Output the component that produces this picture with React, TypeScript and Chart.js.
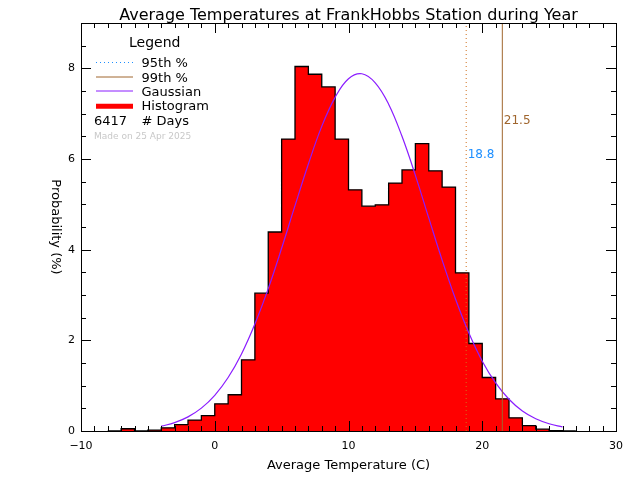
import { useEffect, useRef } from "react";
import { Chart, registerables } from "chart.js";

Chart.register(...registerables);

const titleText = "Average Temperatures at FrankHobbs Station during Year";
const xAxisTitle = "Average Temperature (C)";
const yAxisTitle = "Probability (%)";

const binStarts = [
  -8, -7, -6, -5, -4, -3, -2, -1, 0, 1, 2, 3, 4, 5, 6, 7, 8, 9, 10, 11, 12, 13,
  14, 15, 16, 17, 18, 19, 20, 21, 22, 23, 24, 25, 26,
];
const binWidth = 1;
const histogramPct = [
  0, 0.05, 0, 0.02, 0.07, 0.14, 0.24, 0.34, 0.6, 0.8, 1.57, 3.04, 4.39, 6.44,
  8.04, 7.87, 7.59, 6.44, 5.32, 4.96, 4.99, 5.47, 5.76, 6.34, 5.74, 5.38, 3.49,
  1.93, 1.18, 0.71, 0.29, 0.12, 0.04, 0.01, 0,
];

const gaussX = [
  -4, -3, -2, -1, 0, 1, 2, 3, 4, 5, 6, 7, 8, 9, 10, 11, 12, 13, 14, 15, 16, 17,
  18, 19, 20, 21, 22, 23, 24, 25, 26,
];
const gaussPct = [
  0.106, 0.185, 0.312, 0.505, 0.787, 1.18, 1.7, 2.36, 3.14, 4.03, 4.97, 5.89,
  6.72, 7.36, 7.77, 7.88, 7.68, 7.21, 6.5, 5.64, 4.7, 3.77, 2.91, 2.16, 1.54,
  1.06, 0.7, 0.44, 0.27, 0.16, 0.09,
];

const percentileValues = [18.8, 21.5];
const percentileLabels = ["18.8", "21.5"];
const percentileLabelY = [6.02, 6.78];

const xTicks = [-10, 0, 10, 20, 30];
const xTickLabels = ["\u221210", "0", "10", "20", "30"];
const yTicks = [0, 2, 4, 6, 8];
const yTickLabels = ["0", "2", "4", "6", "8"];
const xMin = -10;
const xMax = 30;
const yMin = 0;
const yMax = 9;
const xMinorStep = 1;
const yMinorStep = 0.5;

const dayCount = 6417;
const madeOn = "Made on 25 Apr 2025";
const legendLabels = ["95th %", "99th %", "Gaussian", "Histogram"];

const C_RED = "#ff0000";
const C_GAUSS = "#8a1cff";
const C_P95 = "#d0701e";
const C_P95_LEGEND = "#1e8fff";
const C_P99 = "#a0662e";
const FONT = '"DejaVu Sans", sans-serif';

const overlay = {
  id: "overlay",
  afterDraw(chart: any) {
    const { ctx, chartArea: a, scales } = chart;
    const xs = scales.x;
    const ys = scales.y;
    ctx.save();
    ctx.strokeStyle = "#000";
    ctx.lineWidth = 1;
    ctx.setLineDash([]);

    // ticks
    ctx.beginPath();
    for (let v = xMin; v <= xMax + 1e-9; v += xMinorStep) {
      const px = Math.round(xs.getPixelForValue(v)) + 0.5;
      const len = xTicks.includes(v) ? 10 : 5;
      ctx.moveTo(px, a.bottom);
      ctx.lineTo(px, a.bottom - len);
      ctx.moveTo(px, a.top);
      ctx.lineTo(px, a.top + len);
    }
    for (let v = yMin; v <= yMax + 1e-9; v += yMinorStep) {
      const py = Math.round(ys.getPixelForValue(v)) + 0.5;
      const len = yTicks.includes(v) ? 10 : 5;
      ctx.moveTo(a.left, py);
      ctx.lineTo(a.left + len, py);
      ctx.moveTo(a.right, py);
      ctx.lineTo(a.right - len, py);
    }
    ctx.stroke();

    // frame
    ctx.strokeRect(
      Math.round(a.left) + 0.5,
      Math.round(a.top) + 0.5,
      Math.round(a.right - a.left),
      Math.round(a.bottom - a.top)
    );

    // tick labels
    ctx.fillStyle = "#000";
    ctx.font = `11px ${FONT}`;
    ctx.textAlign = "center";
    ctx.textBaseline = "middle";
    xTicks.forEach((v, i) => {
      ctx.fillText(xTickLabels[i], xs.getPixelForValue(v), a.bottom + 15);
    });
    ctx.textAlign = "right";
    yTicks.forEach((v, i) => {
      ctx.fillText(yTickLabels[i], a.left - 6, ys.getPixelForValue(v));
    });

    // titles
    ctx.textAlign = "center";
    ctx.font = `16px ${FONT}`;
    ctx.textBaseline = "alphabetic";
    ctx.fillText(titleText, (a.left + a.right) / 2, 19.5);
    ctx.font = `13px ${FONT}`;
    ctx.textBaseline = "middle";
    ctx.fillText(xAxisTitle, (a.left + a.right) / 2, 466);
    ctx.save();
    ctx.translate(55, (a.top + a.bottom) / 2);
    ctx.rotate(Math.PI / 2);
    ctx.fillText(yAxisTitle, 0, 0);
    ctx.restore();

    // percentile labels
    ctx.textAlign = "left";
    ctx.textBaseline = "alphabetic";
    ctx.font = `12px ${FONT}`;
    const pctColors = [C_P95_LEGEND, C_P99];
    percentileValues.forEach((p, i) => {
      ctx.fillStyle = pctColors[i];
      ctx.fillText(
        percentileLabels[i],
        xs.getPixelForValue(p) + 1.5,
        ys.getPixelForValue(percentileLabelY[i])
      );
    });

    // legend
    ctx.fillStyle = "#000";
    ctx.font = `14px ${FONT}`;
    ctx.fillText("Legend", 129, 46.7);
    const sx0 = 96;
    const sx1 = 133;
    const rowY = [62, 76.5, 90.5, 106.3];
    const baseY = [66.7, 81.5, 95.7, 110.3];
    ctx.lineWidth = 1;
    ctx.strokeStyle = C_P95_LEGEND;
    ctx.setLineDash([1, 3]);
    ctx.beginPath();
    ctx.moveTo(sx0, rowY[0] + 0.5);
    ctx.lineTo(sx1, rowY[0] + 0.5);
    ctx.stroke();
    ctx.setLineDash([]);
    ctx.strokeStyle = C_P99;
    ctx.beginPath();
    ctx.moveTo(sx0, rowY[1] + 0.5);
    ctx.lineTo(sx1, rowY[1] + 0.5);
    ctx.stroke();
    ctx.strokeStyle = C_GAUSS;
    ctx.beginPath();
    ctx.moveTo(sx0, rowY[2] + 0.5);
    ctx.lineTo(sx1, rowY[2] + 0.5);
    ctx.stroke();
    ctx.strokeStyle = C_RED;
    ctx.lineWidth = 5;
    ctx.beginPath();
    ctx.moveTo(sx0, rowY[3]);
    ctx.lineTo(sx1, rowY[3]);
    ctx.stroke();
    ctx.font = `13px ${FONT}`;
    ctx.fillStyle = "#000";
    legendLabels.forEach((t, i) => ctx.fillText(t, 141.5, baseY[i]));
    ctx.fillText(String(dayCount), 94, 125);
    ctx.fillText("# Days", 141.5, 125);
    ctx.font = `9px ${FONT}`;
    ctx.fillStyle = "#c8c8c8";
    ctx.fillText(madeOn, 94, 139.3);
    ctx.restore();
  },
};

export default function App() {
  const ref = useRef<HTMLCanvasElement | null>(null);
  useEffect(() => {
    if (!ref.current) return;
    const histPoints = binStarts.map((x, i) => ({ x, y: histogramPct[i] }));
    histPoints.push({
      x: binStarts[binStarts.length - 1] + binWidth,
      y: histogramPct[histogramPct.length - 1],
    });
    const chart = new Chart(ref.current, {
      type: "line",
      data: {
        datasets: [
          {
            data: [
              { x: percentileValues[1], y: yMin },
              { x: percentileValues[1], y: yMax },
            ],
            borderColor: C_P99,
            borderWidth: 1,
            pointRadius: 0,
            fill: false,
            order: 0,
          },
          {
            data: [
              { x: percentileValues[0], y: yMin },
              { x: percentileValues[0], y: yMax },
            ],
            borderColor: C_P95,
            borderWidth: 1,
            borderDash: [1, 3],
            pointRadius: 0,
            fill: false,
            order: 1,
          },
          {
            data: gaussX.map((x, i) => ({ x, y: gaussPct[i] })),
            borderColor: C_GAUSS,
            borderWidth: 1.2,
            pointRadius: 0,
            tension: 0.4,
            fill: false,
            order: 2,
          },
          {
            data: histPoints,
            borderColor: "#000",
            backgroundColor: C_RED,
            borderWidth: 1.3,
            pointRadius: 0,
            stepped: "before",
            fill: "origin",
            order: 3,
          },
        ],
      },
      options: {
        responsive: false,
        animation: false,
        events: [],
        layout: { padding: { left: 81, top: 23, right: 24, bottom: 49 } },
        scales: {
          x: { type: "linear", display: false, min: xMin, max: xMax },
          y: { type: "linear", display: false, min: yMin, max: yMax },
        },
        plugins: { legend: { display: false }, tooltip: { enabled: false } },
      },
      plugins: [overlay],
    } as any);
    return () => chart.destroy();
  }, []);
  return (
    <div
      style={{
        position: "fixed",
        left: 0,
        top: 0,
        width: 640,
        height: 480,
        background: "#fff",
      }}
    >
      <canvas ref={ref} width={640} height={480} style={{ display: "block" }} />
    </div>
  );
}
